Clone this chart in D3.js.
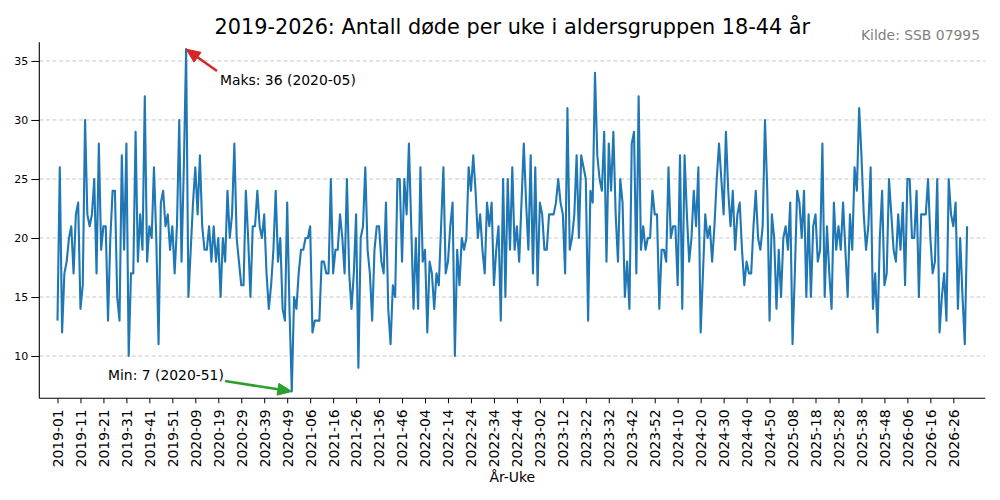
<!DOCTYPE html>
<html>
<head>
<meta charset="utf-8">
<script src="https://cdn.jsdelivr.net/npm/d3@7"></script>
<style>
  body { margin: 0; background: #fff; }
  svg { font-family: "DejaVu Sans", sans-serif; }
</style>
</head>
<body>
<div id="chart"></div>
<script>
// Weekly deaths, age group 18-44
var years = [2019, 2020, 2021, 2022, 2023, 2024, 2025, 2026];

var deaths2019 = [13, 26, 12, 17, 18, 20, 21, 17, 22, 23, 14, 16, 30, 22, 21, 22, 25, 17, 28, 19,
  21, 21, 13, 20, 24, 24, 15, 13, 27, 19, 28, 10, 17, 17, 29, 18, 22, 19, 32, 18,
  21, 20, 26, 20, 11, 23, 24, 21, 22, 19, 21, 17];
var deaths2020 = [21, 30, 18, 26, 36, 15, 19, 23, 26, 22, 27, 21, 19, 19, 21, 18, 21, 18, 20, 15,
  20, 18, 24, 20, 22, 28, 20, 18, 16, 16, 24, 20, 15, 21, 21, 24, 21, 20, 22, 17,
  14, 16, 19, 24, 18, 20, 14, 13, 23, 14, 7, 15, 14];
var deaths2021 = [17, 19, 19, 20, 20, 21, 12, 13, 13, 13, 18, 18, 17, 17, 25, 17, 19, 19, 22, 20,
  17, 25, 17, 14, 17, 22, 9, 20, 21, 26, 19, 17, 13, 19, 21, 21, 18, 17, 23, 14,
  11, 16, 15, 25, 25, 18, 25, 22, 28, 21, 14, 20];
var deaths2022 = [14, 26, 18, 19, 12, 18, 17, 14, 17, 16, 21, 26, 17, 18, 21, 23, 10, 19, 16, 20,
  19, 20, 26, 24, 27, 24, 20, 22, 19, 17, 23, 21, 23, 16, 19, 21, 13, 25, 15, 25,
  19, 26, 19, 21, 18, 23, 28, 23, 19, 27, 17, 26];
var deaths2023 = [16, 23, 22, 19, 19, 22, 22, 22, 23, 25, 23, 22, 17, 31, 19, 20, 22, 27, 20, 27,
  26, 25, 13, 24, 23, 34, 27, 25, 24, 29, 18, 28, 24, 29, 22, 18, 25, 23, 15, 18,
  14, 28, 29, 17, 32, 19, 21, 19, 20, 20, 24, 22];
var deaths2024 = [22, 14, 19, 19, 18, 26, 20, 21, 21, 16, 27, 14, 27, 22, 18, 20, 24, 21, 26, 12,
  17, 22, 20, 21, 18, 21, 25, 28, 25, 22, 29, 24, 21, 24, 19, 22, 23, 19, 16, 18,
  17, 17, 21, 24, 20, 19, 21, 30, 24, 13, 22, 20];
var deaths2025 = [14, 19, 15, 20, 21, 19, 23, 11, 17, 24, 23, 20, 24, 15, 22, 15, 21, 22, 18, 19,
  28, 15, 21, 17, 14, 23, 19, 21, 19, 23, 19, 15, 22, 19, 26, 24, 31, 27, 22, 19,
  21, 26, 14, 17, 12, 20, 24, 16, 17, 25, 22, 19];
var deaths2026 = [18, 22, 19, 23, 16, 25, 25, 20, 20, 24, 15, 22, 22, 22, 25, 20, 17, 18, 25, 12,
  15, 17, 13, 25, 22, 21, 23, 14, 20, 15, 11, 21];

var deathsByYear = [deaths2019, deaths2020, deaths2021, deaths2022, deaths2023, deaths2024, deaths2025, deaths2026];
var yTicks = [10, 15, 20, 25, 30, 35];

// flatten to one series with "YYYY-WW" labels
var weekLabels = [];
var values = [];
years.forEach(function(yr, k) {
  deathsByYear[k].forEach(function(v, w) {
    weekLabels.push(yr + "-" + String(w + 1).padStart(2, "0"));
    values.push(v);
  });
});
var n = values.length;

var svgWidth = 1000;
var svgHeight = 500;
var plot = { left: 39.3, right: 985.3, top: 42.3, bottom: 398.3 };

var svg = d3.select("#chart")
  .append("svg")
  .attr("width", svgWidth)
  .attr("height", svgHeight);

svg.append("rect").attr("width", svgWidth).attr("height", svgHeight).attr("fill", "#fff");

// scales with 2% margins like the source plot
var xPad = 0.02 * (n - 1);
var xScale = d3.scaleLinear()
  .domain([-xPad, n - 1 + xPad])
  .range([plot.left, plot.right]);

var yMin = d3.min(values), yMax = d3.max(values);
var yPad = 0.02 * (yMax - yMin);
var yScale = d3.scaleLinear()
  .domain([yMin - yPad, yMax + yPad])
  .range([plot.bottom, plot.top]);

// horizontal grid
svg.append("g")
  .selectAll("line")
  .data(yTicks)
  .enter()
  .append("line")
  .attr("x1", plot.left)
  .attr("x2", plot.right)
  .attr("y1", d => yScale(d))
  .attr("y2", d => yScale(d))
  .attr("stroke", "#c8c8c8")
  .attr("stroke-width", 1)
  .attr("stroke-dasharray", "4,2.6");

// line
var line = d3.line()
  .x((d, i) => xScale(i))
  .y(d => yScale(d));

svg.append("path")
  .datum(values)
  .attr("d", line)
  .attr("fill", "none")
  .attr("stroke", "#1f77b4")
  .attr("stroke-width", 2.1)
  .attr("stroke-linejoin", "round");

// y axis
var yAxis = d3.axisLeft(yScale).tickValues(yTicks).tickSize(8).tickPadding(3).tickSizeOuter(0);
var yG = svg.append("g")
  .attr("transform", `translate(${plot.left},0)`)
  .call(yAxis);
yG.select(".domain").remove();
yG.selectAll("text").attr("font-size", 11).attr("fill", "#000").attr("font-family", "DejaVu Sans");
yG.selectAll(".tick line").attr("stroke", "#000").attr("stroke-width", 1);

// x axis, every 10th week
var xAxis = d3.axisBottom(xScale)
  .tickValues(d3.range(0, n, 10))
  .tickFormat(i => weekLabels[i])
  .tickSize(5)
  .tickSizeOuter(0);
var xG = svg.append("g")
  .attr("transform", `translate(0,${plot.bottom})`)
  .call(xAxis);
xG.select(".domain").remove();
xG.selectAll(".tick line").attr("stroke", "#000").attr("stroke-width", 1);
xG.selectAll("text")
  .attr("font-size", 13.9)
  .attr("fill", "#000")
  .attr("font-family", "DejaVu Sans")
  .attr("transform", "rotate(-90)")
  .attr("text-anchor", "end")
  .attr("x", -11)
  .attr("y", 0)
  .attr("dy", "0.35em");

// spines (left + bottom only)
svg.append("line")
  .attr("x1", plot.left).attr("x2", plot.left)
  .attr("y1", plot.top).attr("y2", plot.bottom)
  .attr("stroke", "#000").attr("stroke-width", 1.1);
svg.append("line")
  .attr("x1", plot.left).attr("x2", plot.right)
  .attr("y1", plot.bottom).attr("y2", plot.bottom)
  .attr("stroke", "#000").attr("stroke-width", 1.1);

// title and source
svg.append("text")
  .attr("x", (plot.left + plot.right) / 2)
  .attr("y", 34)
  .attr("text-anchor", "middle")
  .attr("font-size", 20.8)
  .attr("fill", "#000")
  .text("2019-2026: Antall døde per uke i aldersgruppen 18-44 år");

svg.append("text")
  .attr("x", 980)
  .attr("y", 40)
  .attr("text-anchor", "end")
  .attr("font-size", 13.9)
  .attr("fill", "#808080")
  .text("Kilde: SSB 07995");

svg.append("text")
  .attr("x", (plot.left + plot.right) / 2)
  .attr("y", 482)
  .attr("text-anchor", "middle")
  .attr("font-size", 13.9)
  .attr("fill", "#000")
  .text("År-Uke");

// annotations for max and min
function arrow(x1, y1, x2, y2, color) {
  var ang = Math.atan2(y2 - y1, x2 - x1);
  var headLen = 14, headHalf = 6;
  var bx = x2 - headLen * Math.cos(ang), by = y2 - headLen * Math.sin(ang);
  svg.append("line")
    .attr("x1", x1).attr("y1", y1).attr("x2", bx).attr("y2", by)
    .attr("stroke", color).attr("stroke-width", 2.6);
  var px = -Math.sin(ang) * headHalf, py = Math.cos(ang) * headHalf;
  svg.append("path")
    .attr("d", `M${x2},${y2}L${bx + px},${by + py}L${bx - px},${by - py}Z`)
    .attr("fill", color)
    .attr("stroke", color)
    .attr("stroke-width", 1);
}

var iMax = d3.maxIndex(values);
var iMin = d3.minIndex(values);

arrow(217, 71, xScale(iMax), yScale(values[iMax]), "#d62728");
svg.append("text")
  .attr("x", 220).attr("y", 85)
  .attr("font-size", 13.9)
  .attr("fill", "#000")
  .text(`Maks: ${values[iMax]} (${weekLabels[iMax]})`);

arrow(225, 381, xScale(iMin), yScale(values[iMin]), "#2ca02c");
svg.append("text")
  .attr("x", 108).attr("y", 379.5)
  .attr("font-size", 13.9)
  .attr("fill", "#000")
  .text(`Min: ${values[iMin]} (${weekLabels[iMin]})`);
</script>
</body>
</html>
